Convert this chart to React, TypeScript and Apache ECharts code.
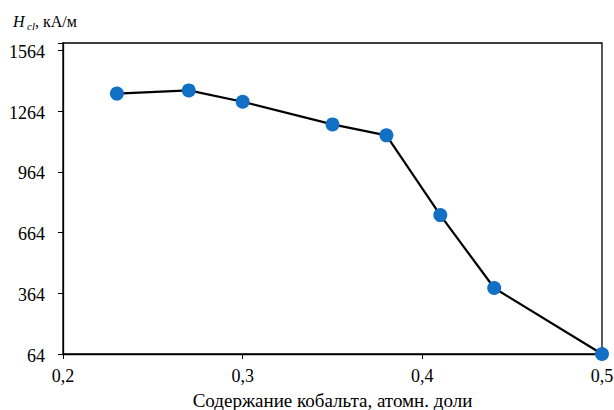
import React, { useEffect, useRef } from "react";
import * as echarts from "echarts";

const cobalt = [0.23, 0.27, 0.3, 0.35, 0.38, 0.41, 0.44, 0.5];
const hcl = [1350, 1366, 1310, 1198, 1144, 750, 390, 64];
const xTicks = [0.2, 0.3, 0.4, 0.5];
const yTicks = [64, 364, 664, 964, 1264, 1564];
const yTop = 1600;
const xLabel = "Содержание кобальта, атомн. доли";

const yBase = yTicks[0];
const yStep = yTicks[1] - yTicks[0];
const FONT = "Liberation Serif";
const LABEL_SIZE = 18;
const LABEL_FONT = `${LABEL_SIZE}px ${FONT}`;

export default function App() {
  const ref = useRef<HTMLDivElement>(null);
  useEffect(() => {
    if (!ref.current) return;
    const chart = echarts.init(ref.current, undefined, { renderer: "svg" });
    chart.setOption({
      animation: false,
      backgroundColor: "#fff",
      textStyle: { fontFamily: FONT, fontSize: LABEL_SIZE, color: "#000" },
      grid: {
        left: 63,
        right: 12,
        top: 43,
        bottom: 56,
        containLabel: false,
        outerBoundsMode: "none",
        show: true,
        borderColor: "#000",
        borderWidth: 1.3,
      },
      xAxis: {
        type: "value",
        min: xTicks[0],
        max: xTicks[xTicks.length - 1],
        interval: xTicks[1] - xTicks[0],
        splitLine: { show: false },
        axisLine: { show: true, lineStyle: { color: "#000", width: 1.3 } },
        axisTick: { show: true, length: 5, lineStyle: { color: "#000" } },
        axisLabel: { show: false },
        name: xLabel,
        nameLocation: "middle",
        nameGap: 36.5,
        nameTextStyle: { color: "#000", fontFamily: FONT, fontSize: 19 },
      },
      yAxis: {
        type: "value",
        min: 0,
        max: yTop - yBase,
        interval: yStep,
        splitLine: { show: false },
        axisLine: { show: true, lineStyle: { color: "#000", width: 1.3 } },
        axisTick: { show: true, length: 5, lineStyle: { color: "#000" } },
        axisLabel: { show: false },
      },
      series: [
        {
          type: "line",
          data: cobalt.map((x, i) => [x, hcl[i] - yBase]),
          clip: false,
          symbol: "circle",
          symbolSize: 14,
          lineStyle: { color: "#000", width: 2.2 },
          itemStyle: { color: "#1170C4" },
        },
      ],
    });

    // tick labels placed through the axes' own scales
    const axisX = chart.convertToPixel({ yAxisIndex: 0 }, 0) as number; // pixel y of x axis
    const axisY = chart.convertToPixel({ xAxisIndex: 0 }, xTicks[0]) as number; // pixel x of y axis
    const graphics: any[] = [];
    xTicks.forEach((v) => {
      graphics.push({
        type: "text",
        x: chart.convertToPixel({ xAxisIndex: 0 }, v) as number,
        y: axisX + 13,
        style: {
          text: v.toFixed(1).replace(".", ","),
          font: LABEL_FONT,
          fill: "#000",
          align: "center",
          verticalAlign: "top",
        },
      });
    });
    yTicks.forEach((v) => {
      graphics.push({
        type: "text",
        x: axisY - 18,
        y: (chart.convertToPixel({ yAxisIndex: 0 }, v - yBase) as number) + 1.5,
        style: {
          text: String(v),
          font: LABEL_FONT,
          fill: "#000",
          align: "right",
          verticalAlign: "middle",
        },
      });
    });
    graphics.push(
      { type: "text", left: 13, top: 13, style: { text: "H", font: `italic 16px ${FONT}`, fill: "#000" } },
      { type: "text", left: 27, top: 20, style: { text: "cl", font: `italic 11px ${FONT}`, fill: "#000" } },
      { type: "text", left: 35, top: 13, style: { text: ", кА/м", font: `16px ${FONT}`, fill: "#000" } }
    );
    chart.setOption({ graphic: graphics });

    return () => chart.dispose();
  }, []);
  return <div ref={ref} style={{ width: 614, height: 410, position: "absolute", left: 0, top: 0 }} />;
}
